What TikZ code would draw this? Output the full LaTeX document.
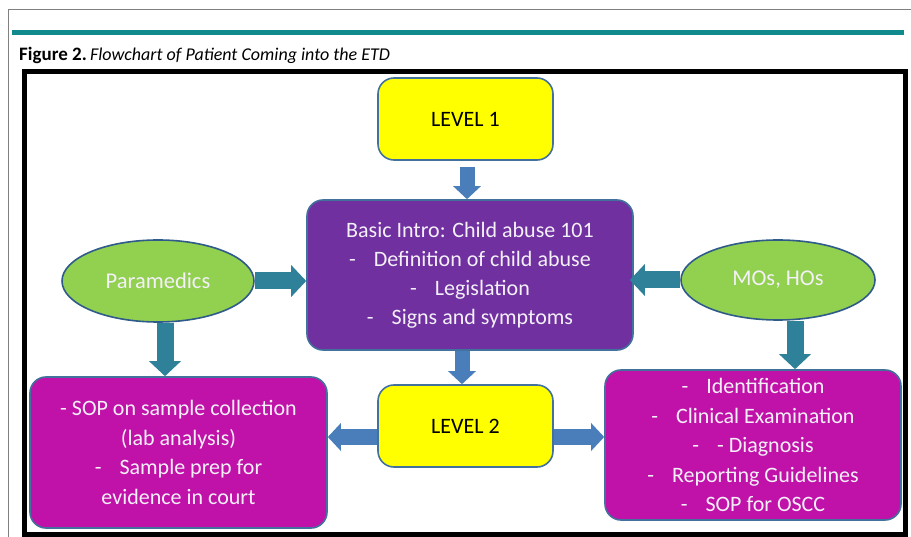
\documentclass[tikz,border=0pt]{standalone}
\usepackage{fontspec}
\setmainfont{Carlito}
\usetikzlibrary{shapes.geometric,arrows.meta}
\definecolor{tealbar}{HTML}{108A8C}
\definecolor{boxborder}{HTML}{41719C}
\definecolor{yellowc}{HTML}{FFFF00}
\definecolor{purplec}{HTML}{7030A0}
\definecolor{magentac}{HTML}{C012A8}
\definecolor{greenc}{HTML}{92D050}
\definecolor{ellborder}{HTML}{2F5B8A}
\definecolor{arrowblue}{HTML}{4A7EBB}
\definecolor{arrowteal}{HTML}{2F8199}
\definecolor{txtwhite}{HTML}{F4F0F8}
\begin{document}
\begin{tikzpicture}[x=1pt,y=-1pt,
  box/.style={draw=boxborder, line width=1.6pt, rounded corners=16pt, align=center, inner sep=0pt},
  lvl/.style={box, fill=yellowc, minimum width=175pt, minimum height=82pt, font=\fontsize{22}{26}\selectfont},
  purp/.style={box, fill=purplec, text=txtwhite, font=\fontsize{22}{29}\selectfont},
  mag/.style={box, fill=magentac, text=txtwhite, font=\fontsize{22}{29.5}\selectfont},
  ell/.style={ellipse, draw=ellborder, line width=1.6pt, fill=greenc, text=txtwhite, inner sep=0pt, font=\fontsize{22.5}{26}\selectfont},
  barrow/.style={draw=arrowblue, line width=15pt, -{Triangle[width=27pt,length=13pt]}},
  tarrow/.style={draw=arrowteal, line width=17pt, -{Triangle[width=31pt,length=15pt]}}
]
\useasboundingbox (0,0) rectangle (911,537);
% page furniture
\draw[gray, line width=1pt] (8,537) -- (8,10) -- (911,10);
\fill[tealbar] (12,30) rectangle (904,35);
\node[anchor=base west, inner sep=0pt] (cap) at (19,61)
  {\fontsize{19}{22}\selectfont\textbf{Figure 2.}\,\fontsize{18}{22}\selectfont\textit{Flowchart of Patient Coming into the ETD}};
\draw[line width=5pt] (24.5,72) rectangle (905.5,534.5);

% nodes
\node[lvl] (l1) at (465.5,119) {LEVEL 1};
\node[lvl] (l2) at (465.5,426) {LEVEL 2};
\node[purp, minimum width=326pt, minimum height=150pt] (intro) at (470,275)
  {Basic Intro: Child abuse 101\\
   -\hspace{18pt}Definition of child abuse\\
   -\hspace{18pt}Legislation\\
   -\hspace{18pt}Signs and symptoms};
\node[mag, minimum width=297pt, minimum height=151pt] (sop) at (178.5,452.5)
  {- SOP on sample collection\\
   (lab analysis)\\
   -\hspace{18pt}Sample prep for\\
   evidence in court};
\node[mag, minimum width=296pt, minimum height=150pt] (ident) at (753,445)
  {-\hspace{18pt}Identification\\
   -\hspace{18pt}Clinical Examination\\
   -\hspace{18pt}- Diagnosis\\
   -\hspace{18pt}Reporting Guidelines\\
   -\hspace{18pt}SOP for OSCC};
\node[ell, minimum width=192pt, minimum height=82pt] (para) at (158,281) {Paramedics};
\node[ell, minimum width=194pt, minimum height=80pt] (mos) at (778,280) {MOs, HOs};

% helper coordinates
\coordinate (xa) at (467,0);
\coordinate (xb) at (462,0);
\coordinate (xc) at (165,0);
\coordinate (xd) at (795,0);
\coordinate (yl) at (0,437);

% connectors
\draw[barrow, shorten <=6pt] (l1.south -| xa) -- (intro.north -| xa);
\draw[barrow] (intro.south -| xb) -- (l2.north -| xb);
\draw[barrow] (l2.west |- yl) -- (sop.east |- yl);
\draw[barrow] (l2.east |- yl) -- (ident.west |- yl);
\draw[tarrow] (para.east) -- (intro.west |- para.east);
\draw[tarrow] (mos.west) -- ([xshift=-4pt]intro.east |- mos.west);
\draw[tarrow] (para.south -| xc) -- (sop.north -| xc);
\draw[tarrow] (mos.south -| xd) -- (ident.north -| xd);
\end{tikzpicture}
\end{document}
